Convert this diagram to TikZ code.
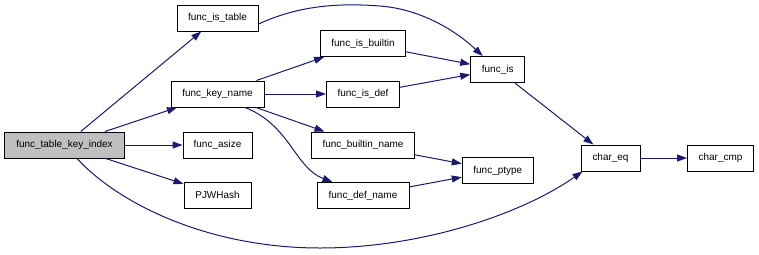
\documentclass[tikz,border=0pt]{standalone}
\usepackage{fontspec}
\setmainfont{Liberation Sans}
\usetikzlibrary{arrows.meta}
\definecolor{edgeblue}{HTML}{191970}
\definecolor{rootgray}{HTML}{BFBFBF}
\tikzset{
  fn/.style={draw=black, line width=1bp, fill=white, inner sep=0pt,
    minimum height=26bp, font=\fontsize{10}{12}\selectfont},
  rootfn/.style={fn, fill=rootgray},
  call/.style={draw=edgeblue, line width=1bp,
    -{Triangle[length=10bp,width=7bp]}, edgeblue}
}
\begin{document}
\begin{tikzpicture}[x=1bp,y=-1bp]
\useasboundingbox (0,0) rectangle (759,254);
% call graph nodes
\node[rootfn, minimum width=119bp] (root) at (64.5,145) {func\_table\_key\_index};
\node[fn, minimum width=81bp] (istable) at (217.5,18) {func\_is\_table};
\node[fn, minimum width=93bp] (keyname) at (217.5,94) {func\_key\_name};
\node[fn, minimum width=69bp] (asize) at (217.5,145) {func\_asize};
\node[fn, minimum width=67bp] (pjw) at (217.5,195) {PJWHash};
\node[fn, minimum width=85bp] (isbuiltin) at (363,43.5) {func\_is\_builtin};
\node[fn, minimum width=73bp] (isdef) at (363,94) {func\_is\_def};
\node[fn, minimum width=103bp] (builtinname) at (363,145) {func\_builtin\_name};
\node[fn, minimum width=92bp] (defname) at (363,195.5) {func\_def\_name};
\node[fn, minimum width=54bp] (is) at (497.7,69.5) {func\_is};
\node[fn, minimum width=71bp] (ptype) at (497.8,170.5) {func\_ptype};
\node[fn, minimum width=59bp] (chareq) at (610.5,158) {char\_eq};
\node[fn, minimum width=66bp] (charcmp) at (720.5,158) {char\_cmp};
% calls
\draw[call] (root) -- (istable);
\draw[call] (root) -- (keyname);
\draw[call] (root) -- (asize);
\draw[call] (root) -- (pjw);
\draw[call] ([xshift=12.5bp]root.south) .. controls (120,205) and (210,248) .. (320,248)
  .. controls (420,248) and (520,215) .. ([xshift=2bp]chareq.south west);
\draw[call] ([yshift=-6bp]istable.east) .. controls (300,5) and (340,3) .. (380,6)
  .. controls (420,9) and (455,30) .. ([xshift=-15bp]is.north);
\draw[call] (keyname) -- (isbuiltin);
\draw[call] (keyname) -- (isdef);
\draw[call] (keyname) -- (builtinname);
\draw[call] ([xshift=27.5bp]keyname.south) .. controls (290,125) and (295,168) .. ([xshift=16bp]defname.north west);
\draw[call] (isbuiltin) -- (is);
\draw[call] (isdef) -- (is);
\draw[call] (builtinname) -- (ptype);
\draw[call] (defname) -- (ptype);
\draw[call] (is) -- (chareq);
\draw[call] (chareq) -- (charcmp);
\end{tikzpicture}
\end{document}
